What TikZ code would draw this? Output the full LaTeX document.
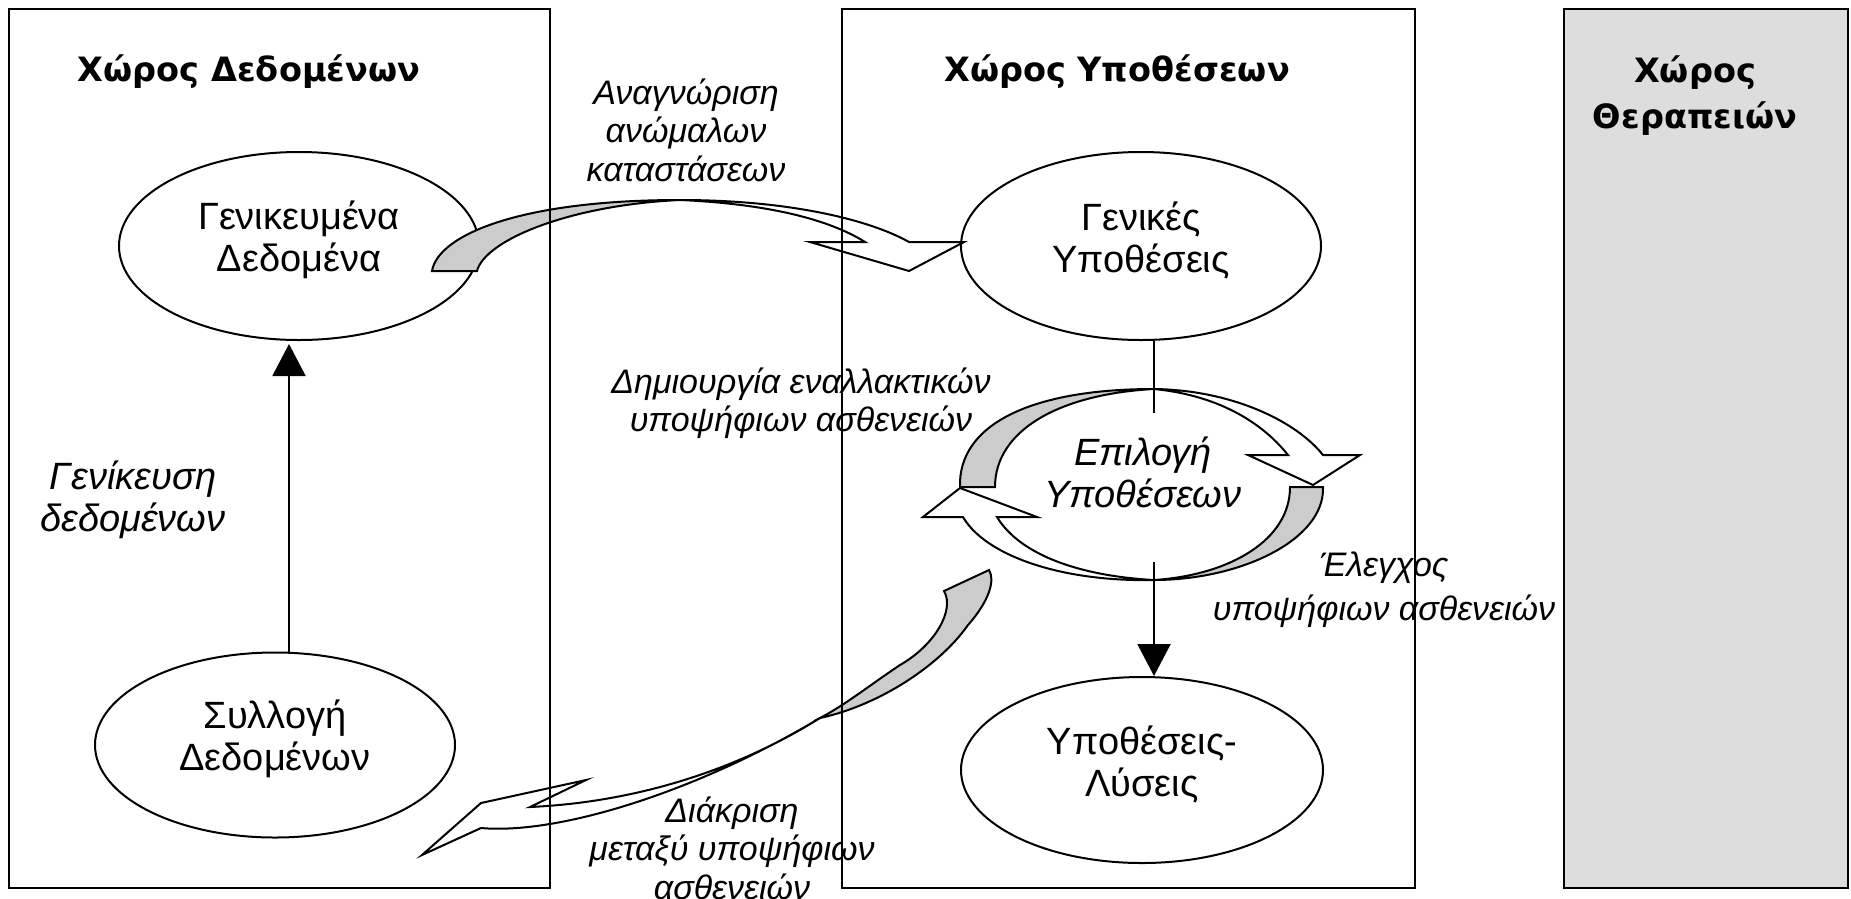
\documentclass[tikz,border=0pt]{standalone}
\usepackage{fontspec}
\setmainfont{Liberation Sans}
\newfontfamily\titlefont{DejaVu Sans}
\usetikzlibrary{shapes.geometric,arrows.meta}
\definecolor{panelgray}{RGB}{221,221,221}
\definecolor{ribgray}{RGB}{204,204,204}
\begin{document}
\begin{tikzpicture}[x=1pt,y=-1pt,
  panel/.style={draw=black,line width=2pt},
  ell/.style={draw=black,line width=2pt,ellipse,inner sep=0pt},
  body/.style={align=center,inner sep=0pt,font=\fontsize{38}{42}\selectfont},
  ttl/.style={font=\titlefont\bfseries\fontsize{33.5}{46}\selectfont,align=center,inner sep=0pt},
  lbl/.style={font=\itshape\fontsize{34}{38.5}\selectfont,align=center,inner sep=0pt},
  rib/.style={draw=black,line width=2pt,line join=miter},
  conn/.style={line width=2pt},
  tip/.style={-{Triangle[length=32pt,width=33pt]}}
]
\useasboundingbox (0,0) rectangle (1851,898);

% therapy panel
\filldraw[panel,line width=2.6pt,fill=panelgray] (1564,9) rectangle (1848,888);

% ellipses
\node[ell,minimum width=360pt,minimum height=188pt] (E1) at (299,246) {};
\node[ell,minimum width=360pt,minimum height=185pt] (E2) at (275,745) {};
\node[ell,minimum width=360pt,minimum height=188pt] (E3) at (1141,246) {};
\node[ell,minimum width=362pt,minimum height=186pt] (E5) at (1142,770) {};
\node[body] (E1t) at ([yshift=6pt]E1.center) {Γενικευμένα\\Δεδομένα};
\node[body] (E2t) at ([yshift=6pt]E2.center) {Συλλογή\\Δεδομένων};
\node[body] (E3t) at ([yshift=6pt]E3.center) {Γενικές\\Υποθέσεις};
\node[body] (E5t) at ([yshift=6pt]E5.center) {Υποθέσεις-\\Λύσεις};
\node[body,font=\itshape\fontsize{38}{42}\selectfont] (E4) at (1143,472) {Επιλογή\\Υποθέσεων};

% ribbon A (Αναγνώριση)
\filldraw[rib,fill=ribgray] (432,271) .. controls (438,235) and (520,200) .. (680,200)
  .. controls (570,205) and (485,240) .. (477,271) -- cycle;
\filldraw[rib,fill=white] (680,200) .. controls (790,200) and (870,220) .. (909,242)
  -- (964,242) -- (909,271) -- (810,242) -- (865,242)
  .. controls (830,220) and (770,204) .. (680,200) -- cycle;

% ribbon B (top of ring)
\filldraw[rib,fill=ribgray] (960,487) .. controls (958,425) and (1030,389) .. (1154,389)
  .. controls (1060,394) and (995,430) .. (995,487) -- cycle;
\filldraw[rib,fill=white] (1154,389) .. controls (1230,390) and (1295,420) .. (1323,455)
  -- (1360,455) -- (1313,485) -- (1248,455) -- (1288,455)
  .. controls (1260,420) and (1215,395) .. (1154,389) -- cycle;

% ribbon C (bottom of ring)
\filldraw[rib,fill=ribgray] (1323,487) .. controls (1325,540) and (1240,580) .. (1154,580)
  .. controls (1230,575) and (1290,540) .. (1290,487) -- cycle;
\filldraw[rib,fill=white] (1154,580) .. controls (1060,582) and (985,555) .. (963,517)
  -- (923,517) -- (960,488) -- (1037,517) -- (997,517)
  .. controls (1020,555) and (1080,576) .. (1154,580) -- cycle;

% ribbon D (Διάκριση)
\filldraw[rib,fill=ribgray] (944,591) .. controls (955,610) and (935,645) .. (900,665)
  .. controls (870,685) and (845,705) .. (820,718)
  .. controls (880,705) and (940,665) .. (968,625)
  .. controls (990,600) and (995,580) .. (989,570) -- cycle;
\filldraw[rib,fill=white] (820,718) .. controls (740,768) and (640,802) .. (530,807)
  -- (586,780) -- (481,803) -- (422,855) -- (481,828)
  .. controls (560,835) and (700,790) .. (820,718) -- cycle;

% panels
\draw[panel] (9,9) rectangle (550,888);
\draw[panel] (842,9) rectangle (1415,888);

% titles
\node[ttl] (T1) at (249,72) {Χώρος Δεδομένων};
\node[ttl] (T2) at (1117,72) {Χώρος Υποθέσεων};
\node[ttl] (T3) at (1695,96) {Χώρος\\Θεραπειών};

% labels
\node[lbl] (LA) at (686,130) {Αναγνώριση\\ανώμαλων\\καταστάσεων};
\node[lbl] (LB) at (801,403) {Δημιουργία εναλλακτικών\\υποψήφιων ασθενειών};
\node[lbl,font=\itshape\fontsize{34}{44}\selectfont] (LC) at (1384,590) {Έλεγχος\\υποψήφιων ασθενειών};
\node[lbl] (LD) at (732,848) {Διάκριση\\μεταξύ υποψήφιων\\ασθενειών};
\node[lbl,font=\itshape\fontsize{38}{42}\selectfont] (LG) at (133,500) {Γενίκευση\\δεδομένων};

% connectors
\coordinate (Gtip) at (289,344);
\coordinate (E4top) at (1154,413);
\coordinate (E4bot) at (1154,562);
\draw[conn,tip] (Gtip |- E2.north) -- (Gtip);
\draw[conn] (E4top |- E3.south) -- (E4top);
\draw[conn,tip] (E4bot) -- (E4bot |- E5.north);
\end{tikzpicture}
\end{document}
